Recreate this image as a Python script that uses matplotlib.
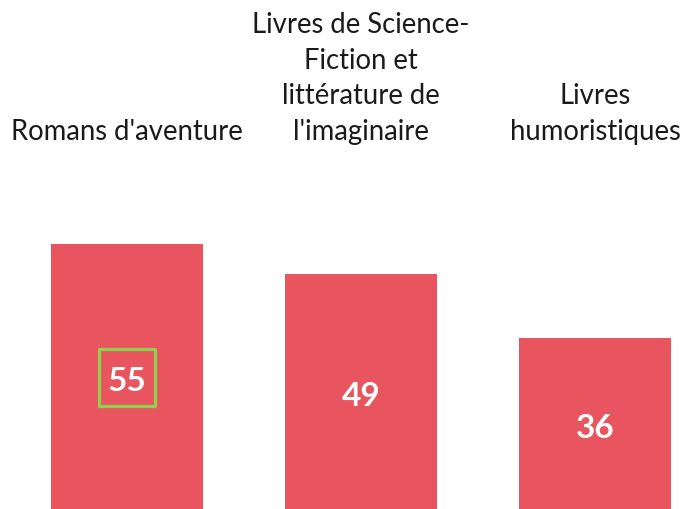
import matplotlib
matplotlib.use("Agg")
import matplotlib.pyplot as plt
from matplotlib.patches import Rectangle
import numpy as np

categories = ["Romans d'aventure",
              "Livres de Science-\nFiction et\nlittérature de\nl'imaginaire",
              "Livres\nhumoristiques"]
values = [55, 49, 36]
highlight = [True, False, False]

BAR = "#E9555F"
GREEN = "#92D050"

plt.rcParams["font.family"] = ["Lato", "DejaVu Sans"]

fig = plt.figure(figsize=(6.84, 5.10), dpi=100)
ax = fig.add_axes([0, 0, 1, 1])
x = np.arange(len(values))
ax.bar(x, values, width=0.65, color=BAR)

for xi, v, cat, hl in zip(x, values, categories, highlight):
    ax.text(xi, 76.3, cat, ha="center", va="baseline", fontsize=19.8,
            color="#1a1a1a", linespacing=1.45)
    ax.text(xi, v / 2, str(v), ha="center", va="center", fontsize=24,
            fontweight="bold", color="white")
    if hl:
        # green highlight box round the value label
        bw, bh = 0.243, 11.6
        ax.add_patch(Rectangle((xi - bw / 2, v / 2 + 0.6 - bh / 2), bw, bh,
                               fill=False, ec=GREEN, lw=2.3, joinstyle="round"))

ax.set_xlim(-0.543, 2.380)
ax.set_ylim(1.52, 104.5)
ax.axis("off")
fig.savefig("out.png", dpi=100)
